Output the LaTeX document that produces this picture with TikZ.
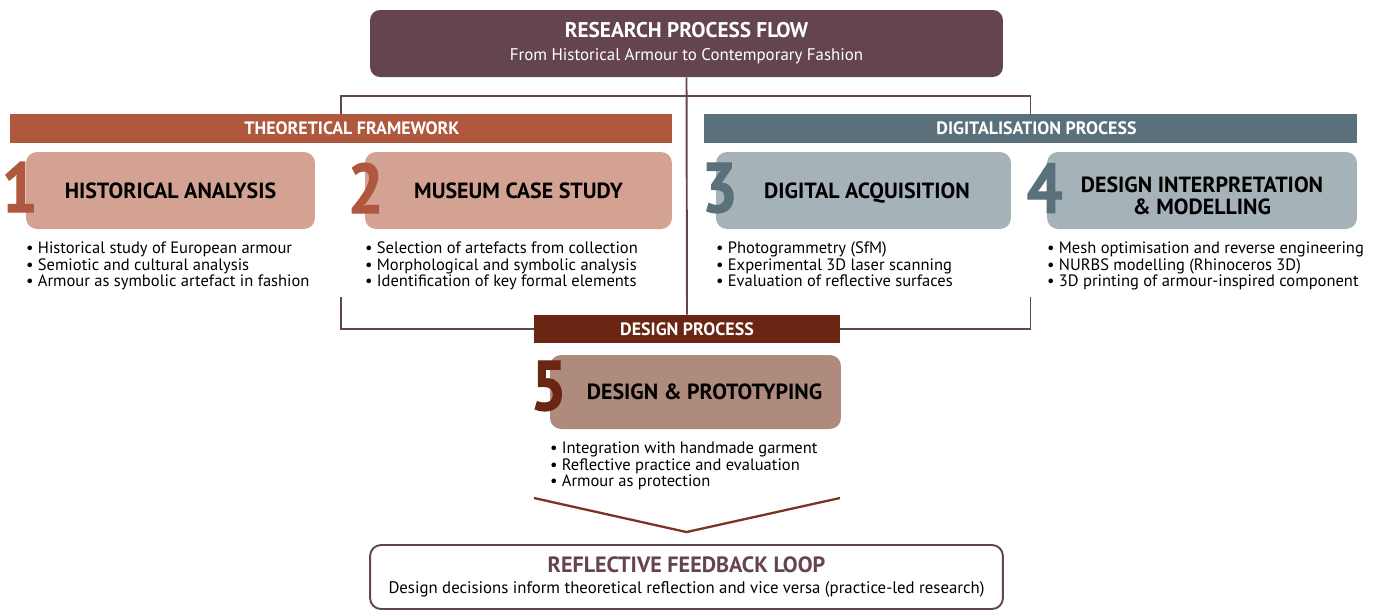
\documentclass[tikz,border=0pt]{standalone}
\usepackage{fontspec}
\setmainfont{PT Sans}
\newfontfamily\numfont[FakeBold=1.4, FakeStretch=0.9]{PT Sans}
\usepackage{tikz}

\definecolor{mauve}{HTML}{65454D}
\definecolor{rust}{HTML}{B0583D}
\definecolor{rustlight}{HTML}{D3A293}
\definecolor{slate}{HTML}{5A717B}
\definecolor{slatelight}{HTML}{A5B2B8}
\definecolor{brick}{HTML}{6A2513}
\definecolor{bricklight}{HTML}{AE8B7C}
\definecolor{vline}{HTML}{7A3322}

\begin{document}
\begin{tikzpicture}[x=0.02cm, y=-0.02cm,
    band/.style={inner sep=0pt, minimum height=0.58cm, text=white, font=\fontsize{10.2}{11}\selectfont\bfseries},
    card/.style={rounded corners=0.22cm, inner sep=0pt, minimum height=1.54cm, align=center, font=\fontsize{12.5}{12.2}\selectfont\bfseries},
    num/.style={inner sep=0pt, font=\fontsize{40}{40}\numfont\bfseries},
    items/.style={anchor=north west, inner sep=0pt, align=left, font=\fontsize{9.4}{9.4}\selectfont},
    link/.style={draw=mauve, line width=1.1pt}]

                \useasboundingbox (0,0) rectangle (1384,610);

                \node[fill=mauve, rounded corners=0.2cm, minimum width=12.66cm, minimum height=1.34cm, align=center, text=white, font=\fontsize{9.6}{13}\selectfont] (head) at (686.5,43.5) {{\fontsize{12.1}{13}\selectfont\bfseries RESEARCH PROCESS FLOW}\\From Historical Armour to Contemporary Fashion};

                \node[band, fill=rust, minimum width=13.24cm] (theory) at (341,128.5) {\hspace*{0.44cm}THEORETICAL FRAMEWORK};
                \node[band, fill=slate, minimum width=13.06cm] (digital) at (1030.5,128.5) {\hspace*{0.24cm}DIGITALISATION PROCESS};
                \node[band, fill=brick, minimum width=6.12cm, minimum height=0.56cm] (design) at (687,329) {DESIGN PROCESS};

                \node[card, fill=rustlight, minimum width=5.78cm] (hist) at (170.5,190.5) {HISTORICAL ANALYSIS};
                \node[card, fill=rustlight, minimum width=6.14cm] (museum) at (518.5,190.5) {MUSEUM CASE STUDY};
                \node[card, fill=slatelight, minimum width=5.9cm] (acq) at (863.5,190.5) {\hspace*{0.14cm}\raisebox{-0.06cm}[\height][\depth]{DIGITAL ACQUISITION}};
                \node[card, fill=slatelight, minimum width=6.2cm] (model) at (1202,190.5) {\raisebox{-0.16cm}[\height][\depth]{\begin{tabular}{@{}c@{}}DESIGN INTERPRETATION\\\& MODELLING\end{tabular}}};
                \node[card, fill=bricklight, minimum width=5.82cm, minimum height=1.48cm] (proto) at (695.5,392) {\hspace*{0.36cm}DESIGN \& PROTOTYPING};

                \node[num, text=rust] (n1) at ([xshift=-0.12cm, yshift=0.07cm]hist.west) {1};
                \node[num, text=rust] (n2) at ([xshift=0.02cm, yshift=0.05cm]museum.west) {2};
                \node[num, text=slate] (n3) at ([xshift=0.08cm, yshift=0.05cm]acq.west) {3};
                \node[num, text=slate] (n4) at ([xshift=-0.04cm, yshift=0.05cm]model.west) {4};
                \node[num, text=brick] (n5) at ([xshift=-0.02cm, yshift=0.12cm]proto.west) {5};

                \node[items] (hist-list) at ([yshift=-0.25cm]hist.south west) {• Historical study of European armour\\• Semiotic and cultural analysis\\• Armour as symbolic artefact in fashion};
                \node[items] (museum-list) at ([yshift=-0.25cm]museum.south west) {• Selection of artefacts from collection\\• Morphological and symbolic analysis\\• Identification of key formal elements};
                \node[items] (acq-list) at ([yshift=-0.25cm]acq.south west) {• Photogrammetry (SfM)\\• Experimental 3D laser scanning\\• Evaluation of reflective surfaces};
                \node[items] (model-list) at ([yshift=-0.25cm]model.south west) {• Mesh optimisation and reverse engineering\\• NURBS modelling (Rhinoceros 3D)\\• 3D printing of armour-inspired component};
                \node[items] (proto-list) at ([yshift=-0.25cm]proto.south west) {• Integration with handmade garment\\• Reflective practice and evaluation\\• Armour as protection};

                \node[draw=mauve, line width=1.1pt, fill=white, rounded corners=0.22cm, minimum width=12.66cm, minimum height=1.28cm, align=center, font=\fontsize{9.55}{12}\selectfont] (loop) at (686.5,577) {{\fontsize{12.6}{14}\selectfont\bfseries\color{mauve}REFLECTIVE FEEDBACK LOOP}\\Design decisions inform theoretical reflection and vice versa (practice-led research)};

                \coordinate (split) at (686.5,96);
                \coordinate (tl) at (341,297);
                \coordinate (tr) at (1030.5,297);
                \coordinate (vl) at (534,498);
                \coordinate (vr) at (840,498);

                \draw[link] (theory.north) |- (split) -| (digital.north);
                \draw[link] (head.south) -- (design.north);
                \draw[link] (tl) |- (design.west);
                \draw[link] (tr) |- (design.east);
                \draw[draw=vline, line width=1.3pt] (vl) -- ([yshift=0.24cm]loop.north) -- (vr);
\end{tikzpicture}
\end{document}
